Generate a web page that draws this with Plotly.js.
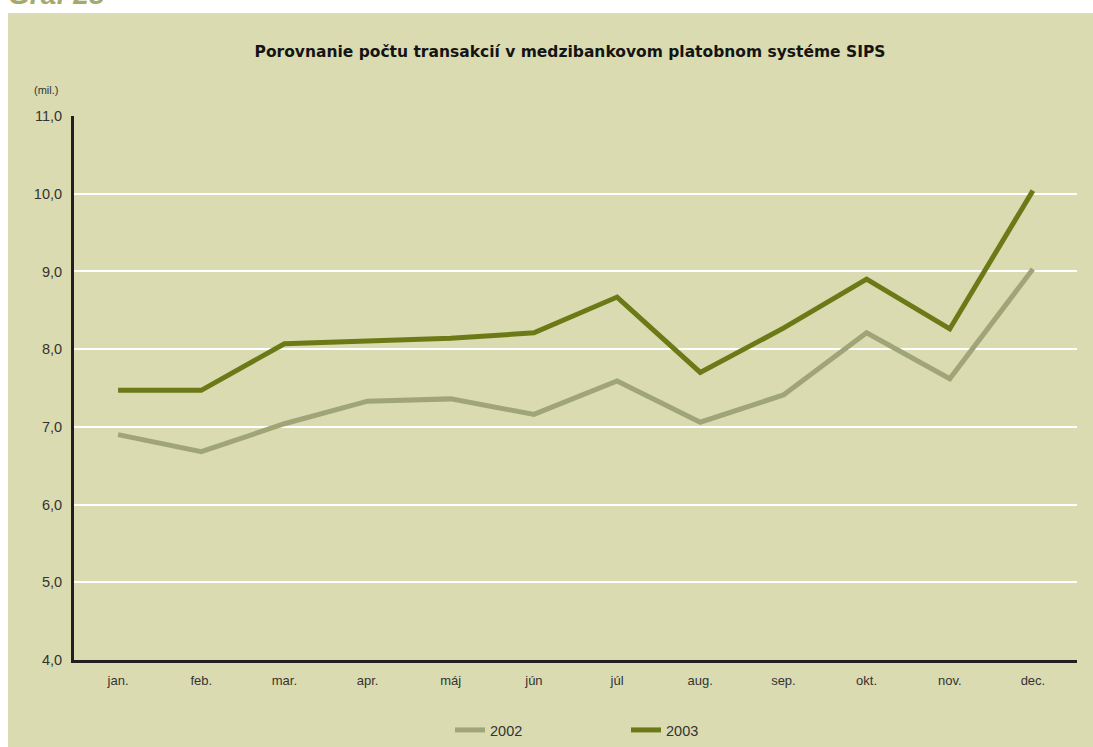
<!DOCTYPE html>
<html>
<head>
<meta charset="utf-8">
<script src="https://cdn.plot.ly/plotly-3.0.1.min.js"></script>
<style>html,body{margin:0;padding:0;background:#fff;}#chart{width:1093px;height:747px;}</style>
</head>
<body>
<div id="chart"></div>
<script>
const months = ["jan.", "feb.", "mar.", "apr.", "máj", "jún", "júl", "aug.", "sep.", "okt.", "nov.", "dec."];
const values2002 = [6.90, 6.68, 7.04, 7.33, 7.36, 7.16, 7.59, 7.06, 7.41, 8.21, 7.62, 9.03];
const values2003 = [7.47, 7.47, 8.07, 8.11, 8.14, 8.21, 8.67, 7.70, 8.27, 8.90, 8.26, 10.04];
const seriesNames = ["2002", "2003"];
const yTicks = [4, 5, 6, 7, 8, 9, 10, 11];

const panel = "#dadbb0";
const textCol = "#333333";

const traces = [
  {x: months, y: values2002, name: seriesNames[0], type: "scatter", mode: "lines",
   line: {color: "#a0a577", width: 5}},
  {x: months, y: values2003, name: seriesNames[1], type: "scatter", mode: "lines",
   line: {color: "#6b7a17", width: 5}}
];

const layout = {
  width: 1093, height: 747,
  paper_bgcolor: "#ffffff",
  plot_bgcolor: "rgba(0,0,0,0)",
  separators: ", ",
  margin: {l: 74, r: 16, t: 116, b: 87, pad: 0},
  font: {family: "Liberation Sans, Arial, sans-serif", size: 13, color: textCol},
  title: {
    text: "Porovnanie počtu transakcií v medzibankovom platobnom systéme SIPS",
    font: {family: "DejaVu Sans, sans-serif", size: 15.5, color: "#141414", weight: "bold"},
    x: 570/1093, xanchor: "center", xref: "container",
    y: 1 - 52/747, yanchor: "middle", yref: "container"
  },
  xaxis: {
    type: "category",
    range: [-0.53, 11.53],
    showgrid: false, zeroline: false,
    showline: true, linecolor: "#231f20", linewidth: 3,
    ticks: "", ticklen: 0,
    ticklabelstandoff: 6,
    tickfont: {size: 13, color: textCol},
    fixedrange: true
  },
  yaxis: {
    range: [4, 11],
    tickvals: yTicks,
    tickformat: ".1f",
    showgrid: true, gridcolor: "#ffffff", gridwidth: 2,
    zeroline: false,
    showline: true, linecolor: "#231f20", linewidth: 3,
    ticks: "outside", ticklen: 6, tickcolor: "rgba(0,0,0,0)",
    tickfont: {size: 14.5, color: textCol},
    fixedrange: true
  },
  showlegend: true,
  legend: {
    orientation: "h",
    xref: "container", yref: "container",
    x: 450 / 1093, xanchor: "left",
    y: 1 - 730 / 747, yanchor: "middle",
    bgcolor: "rgba(0,0,0,0)",
    font: {size: 14.5, color: textCol},
    entrywidth: 131, entrywidthmode: "pixels",
    itemwidth: 30
  },
  shapes: [
    {type: "rect", xref: "paper", yref: "paper", layer: "below",
     x0: (8 - 74) / 1003, x1: (1093 - 74) / 1003,
     y0: (660 - 747) / 544, y1: (660 - 13) / 544,
     fillcolor: panel, line: {width: 0}}
  ],
  annotations: [
    {text: "(mil.)", xref: "paper", yref: "paper",
     x: (46 - 74) / 1003, y: (660 - 90) / 544, xanchor: "center", yanchor: "middle",
     showarrow: false, font: {size: 11, color: textCol}},
    {text: "<b><i>Graf 28</i></b>", xref: "paper", yref: "paper",
     x: (6 - 74) / 1003, y: (660 - 12) / 544, xanchor: "left", yanchor: "bottom",
     showarrow: false, font: {size: 28, color: "#a3aa6c"}}
  ]
};

Plotly.newPlot("chart", traces, layout, {displayModeBar: false, staticPlot: true});
</script>
</body>
</html>
